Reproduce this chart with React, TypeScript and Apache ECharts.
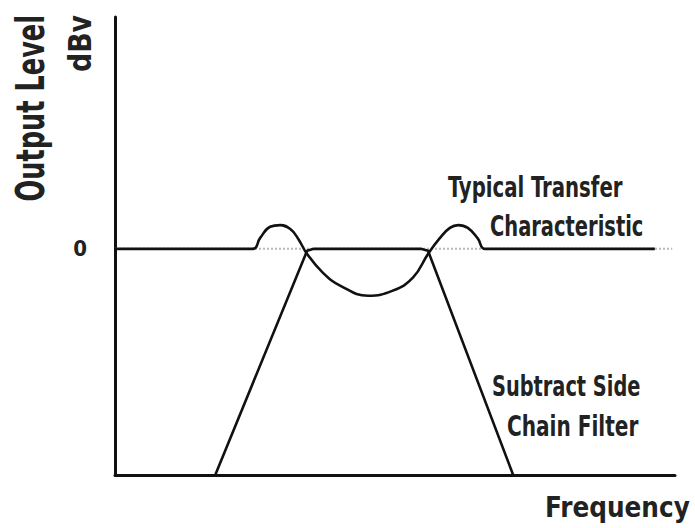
import React, { useEffect, useRef } from "react";
import * as echarts from "echarts";

// Transfer characteristic (frequency units 0-100, output level in dB)
const transferFreq = [0, 24.6, 25.9, 27.7, 29.5, 31.3, 32.7, 34.3, 37.1, 40.2, 45.2, 49.6, 53.2, 55.9, 58.0, 59.8, 61.3, 63.0, 64.8, 66.1, 96.4];
const transferLevel = [0, 0, 1.9, 3.9, 4.2, 3.5, 1.8, -0.9, -4.2, -6.5, -8.3, -7.4, -5.1, -0.9, 1.9, 3.7, 4.2, 3.7, 1.8, 0, 0];

// Subtract side chain filter
const filterFreq = [17.9, 34.3, 35.5, 54.6, 55.9, 71.1];
const filterLevel = [-40, -0.35, 0, 0, -0.35, -40];

// 0 dB reference
const refFreq = [0, 99.5];
const refLevel = [0, 0];

const yTickLabels = ["0"];

const FONT = "DejaVu Sans Condensed";

export default function App() {
  const ref = useRef<HTMLDivElement>(null);
  useEffect(() => {
    if (!ref.current) return;
    const chart = echarts.init(ref.current, undefined, { renderer: "svg" });
    const zip = (xs: number[], ys: number[]) => xs.map((x, i) => [x, ys[i]]);
    const textStyle = (text: string, size: number, align: string) => ({
      text,
      fontSize: size,
      fontFamily: FONT,
      fontWeight: "bold",
      fill: "#222",
      textAlign: align,
      textVerticalAlign: "middle",
    });
    chart.setOption({
      animation: false,
      backgroundColor: "#fff",
      grid: { left: 115, right: 20, top: 17, bottom: 53 },
      xAxis: {
        type: "value",
        min: 0,
        max: 100,
        axisLine: { show: true, onZero: false, lineStyle: { color: "#111", width: 3 } },
        axisTick: { show: false },
        axisLabel: { show: false },
        splitLine: { show: false },
      },
      yAxis: {
        type: "value",
        min: -40,
        max: 41,
        interval: 40,
        axisLine: { show: true, onZero: false, lineStyle: { color: "#111", width: 3 } },
        axisTick: { show: false },
        splitLine: { show: false },
        axisLabel: {
          margin: 28,
          fontFamily: FONT,
          fontWeight: "bold",
          fontSize: 22,
          color: "#222",
          formatter: (v: number) => (yTickLabels.includes(String(v)) ? String(v) : ""),
        },
      },
      series: [
        {
          type: "line",
          data: zip(refFreq, refLevel),
          showSymbol: false,
          z: 1,
          lineStyle: { color: "#b8b8b8", width: 2, type: "dotted" },
          silent: true,
        },
        {
          type: "line",
          data: zip(filterFreq, filterLevel),
          showSymbol: false,
          z: 2,
          lineStyle: { color: "#111", width: 2.6 },
          silent: true,
        },
        {
          type: "line",
          data: zip(transferFreq, transferLevel),
          showSymbol: false,
          smooth: 0.45,
          z: 3,
          lineStyle: { color: "#111", width: 2.6 },
          silent: true,
        },
      ],
      graphic: [
        { type: "text", x: 30, y: 15, rotation: Math.PI / 2, scaleX: 0.73, style: textStyle("Output Level", 39, "right") },
        { type: "text", x: 80, y: 15, rotation: Math.PI / 2, scaleX: 0.93, style: textStyle("dBv", 32, "right") },
        { type: "text", x: 448, y: 187, scaleX: 0.755, style: textStyle("Typical Transfer", 29, "left") },
        { type: "text", x: 490, y: 226, scaleX: 0.746, style: textStyle("Characteristic", 29, "left") },
        { type: "text", x: 492, y: 386, scaleX: 0.742, style: textStyle("Subtract Side", 29, "left") },
        { type: "text", x: 507, y: 426, scaleX: 0.77, style: textStyle("Chain Filter", 29, "left") },
        { type: "text", x: 545, y: 507, scaleX: 0.95, style: textStyle("Frequency", 29, "left") },
      ],
    });
    return () => chart.dispose();
  }, []);
  return <div ref={ref} style={{ position: "absolute", left: 0, top: 0, width: 695, height: 528 }} />;
}
